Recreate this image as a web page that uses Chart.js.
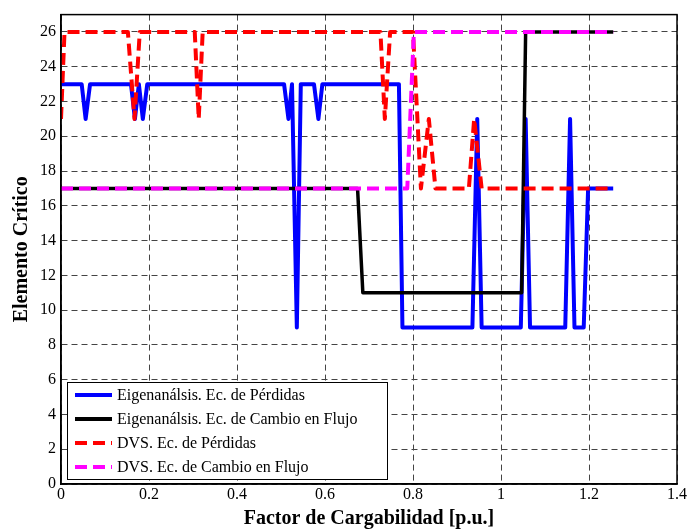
<!DOCTYPE html>
<html>
<head>
<meta charset="utf-8">
<script src="https://cdn.jsdelivr.net/npm/chart.js@4/dist/chart.umd.min.js"></script>
<style>
  html, body { margin: 0; padding: 0; background: #fff; }
  canvas { display: block; }
</style>
</head>
<body>
<canvas id="chart" width="688" height="531"></canvas>
<script>
'use strict';

// puntos [factor de cargabilidad, elemento]
const eigenPerdidas = [
    [0, 23], [0.047, 23], [0.056, 21], [0.066, 23],
    [0.159, 23], [0.168, 21], [0.177, 23], [0.186, 21], [0.196, 23],
    [0.507, 23], [0.517, 21], [0.525, 23], [0.536, 9], [0.545, 23],
    [0.575, 23], [0.585, 21], [0.594, 23], [0.768, 23], [0.776, 9],
    [0.935, 9], [0.946, 21], [0.956, 9], [1.045, 9], [1.056, 21], [1.066, 9],
    [1.146, 9], [1.157, 21], [1.167, 9], [1.188, 9], [1.198, 17], [1.255, 17]
];
const eigenCambio = [
    [0, 17], [0.674, 17], [0.686, 11], [1.047, 11], [1.056, 26], [1.255, 26]
];
const dvsPerdidas = [
    [0, 21], [0.008, 26], [0.152, 26], [0.167, 21], [0.179, 26],
    [0.304, 26], [0.313, 21], [0.322, 26], [0.726, 26], [0.736, 21], [0.748, 26],
    [0.80, 26], [0.818, 17], [0.836, 21], [0.851, 17],
    [0.927, 17], [0.939, 21], [0.956, 17], [1.255, 17]
];
const dvsCambio = [
    [0, 17], [0.787, 17], [0.802, 26], [1.255, 26]
];

const nombres = [
    'Eigenanálsis. Ec. de Pérdidas',
    'Eigenanálsis. Ec. de Cambio en Flujo',
    'DVS. Ec. de Pérdidas',
    'DVS. Ec. de Cambio en Flujo'
];

const ticksX = [0, 0.2, 0.4, 0.6, 0.8, 1, 1.2, 1.4];
const ticksY = [0, 2, 4, 6, 8, 10, 12, 14, 16, 18, 20, 22, 24, 26];

const SERIF = '"Liberation Serif", "Times New Roman", serif';
const toXY = arr => arr.map(p => ({ x: p[0], y: p[1] }));

// leyenda dentro del area de graficado (abajo a la izquierda)
const leyendaInterna = {
    id: 'leyendaInterna',
    afterDraw(chart) {
        const { ctx, chartArea } = chart;
        // marco completo del area
        ctx.save();
        ctx.strokeStyle = '#000';
        ctx.lineWidth = 1.5;
        ctx.strokeRect(chartArea.left, chartArea.top, chartArea.right - chartArea.left, chartArea.bottom - chartArea.top);

        const bx = chartArea.left + 6, by = chartArea.bottom - 102, bw = 320, bh = 97;
        ctx.fillStyle = '#fff';
        ctx.fillRect(bx, by, bw, bh);
        ctx.lineWidth = 1;
        ctx.strokeRect(bx + 0.5, by + 0.5, bw, bh);

        ctx.font = '16px ' + SERIF;
        ctx.textBaseline = 'middle';
        chart.data.datasets.forEach((ds, i) => {
            const y = by + 13 + i * 24;
            ctx.beginPath();
            ctx.strokeStyle = ds.borderColor;
            ctx.lineWidth = 4;
            ctx.setLineDash(ds.borderDash || []);
            ctx.moveTo(bx + 8, y);
            ctx.lineTo(bx + 45, y);
            ctx.stroke();
            ctx.setLineDash([]);
            ctx.fillStyle = '#000';
            ctx.fillText(ds.label, bx + 50, y + 1);
        });
        ctx.restore();
    }
};

new Chart(document.getElementById('chart'), {
    type: 'line',
    data: {
        datasets: [
            { label: nombres[0], data: toXY(eigenPerdidas), borderColor: '#0000ff', borderWidth: 4, order: 4 },
            { label: nombres[1], data: toXY(eigenCambio), borderColor: '#000000', borderWidth: 3.5, order: 3 },
            { label: nombres[2], data: toXY(dvsPerdidas), borderColor: '#ff0000', borderWidth: 4, borderDash: [12, 6], order: 2 },
            { label: nombres[3], data: toXY(dvsCambio), borderColor: '#ff00ff', borderWidth: 4, borderDash: [12, 6], order: 1 }
        ].map(ds => Object.assign(ds, { pointRadius: 0, tension: 0, fill: false, borderJoinStyle: 'round' }))
    },
    options: {
        responsive: false,
        animation: false,
        layout: { padding: { top: 10, right: 9, left: 0, bottom: 0 } },
        plugins: {
            legend: { display: false },
            tooltip: { enabled: false }
        },
        scales: {
            x: {
                type: 'linear',
                min: 0,
                max: 1.4,
                afterFit: s => { s.height = 47; },
                afterBuildTicks: s => { s.ticks = ticksX.map(v => ({ value: v })); },
                ticks: {
                    color: '#000',
                    padding: 1,
                    font: { family: SERIF, size: 16 },
                    callback: v => +v.toFixed(1)
                },
                grid: { color: '#444', lineWidth: 1, drawTicks: false },
                border: { color: '#000', width: 1.5, dash: [6, 4] },
                title: {
                    display: true,
                    text: 'Factor de Cargabilidad [p.u.]',
                    color: '#000',
                    padding: { top: 0, bottom: 0 },
                    font: { family: SERIF, size: 20, weight: 'bold' }
                }
            },
            y: {
                min: 0,
                max: 27,
                afterFit: s => { s.width = 61; },
                afterBuildTicks: s => { s.ticks = ticksY.map(v => ({ value: v })); },
                ticks: {
                    color: '#000',
                    padding: 5,
                    font: { family: SERIF, size: 16 }
                },
                grid: { color: '#444', lineWidth: 1, drawTicks: false },
                border: { color: '#000', width: 1.5, dash: [6, 4] },
                title: {
                    display: true,
                    text: 'Elemento Crítico',
                    color: '#000',
                    padding: { top: 10, bottom: 0 },
                    font: { family: SERIF, size: 20, weight: 'bold' }
                }
            }
        }
    },
    plugins: [leyendaInterna]
});
</script>
</body>
</html>
